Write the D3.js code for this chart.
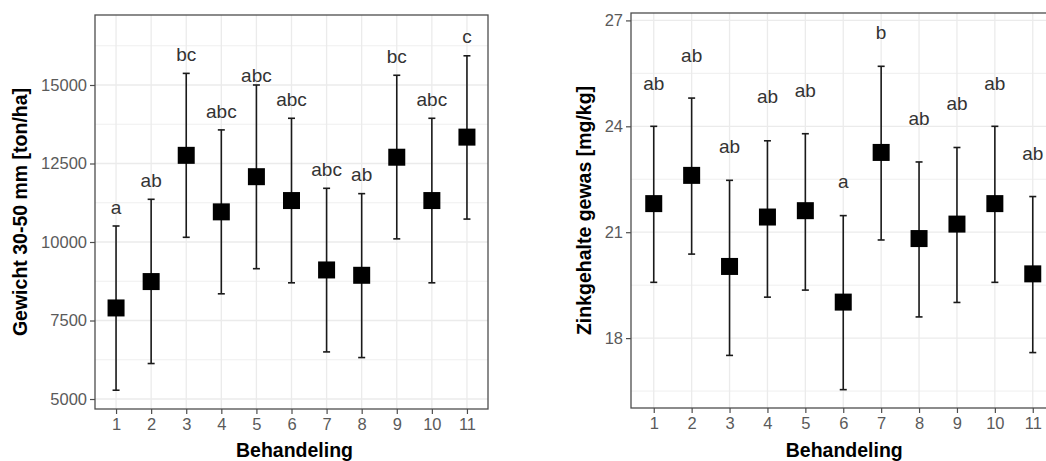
<!DOCTYPE html>
<html>
<head>
<meta charset="utf-8">
<script src="https://cdn.jsdelivr.net/npm/d3@7"></script>
<style>
  html, body { margin: 0; padding: 0; background: #fff; }
  svg { display: block; font-family: "Liberation Sans", Arial, sans-serif; }
</style>
</head>
<body>
<svg id="chart" width="1046" height="461"></svg>
<script>
// Treatments 1..11
const treatments = ["1","2","3","4","5","6","7","8","9","10","11"];

// Yield of 30-50 mm fraction [ton/ha]: mean with interval bounds and group letters
const weightMean  = [7900, 8740, 12760, 10960, 12080, 11320, 9110, 8940, 12700, 11320, 13340];
const weightUpper = [10510, 11360, 15370, 13570, 15000, 13940, 11710, 11540, 15310, 13940, 15930];
const weightLower = [5280, 6130, 10150, 8350, 9150, 8700, 6500, 6320, 10100, 8700, 10730];
const weightLetters = ["a","ab","bc","abc","abc","abc","abc","ab","bc","abc","c"];
const weightTicks = [5000, 7500, 10000, 12500, 15000];
const weightMinor = [6250, 8750, 11250, 13750, 16250];

// Zinc content of crop [mg/kg]
const zincMean  = [21.81, 22.61, 20.03, 21.43, 21.61, 19.02, 23.26, 20.82, 21.23, 21.81, 19.82];
const zincUpper = [24.0, 24.8, 22.47, 23.59, 23.79, 21.47, 25.7, 22.99, 23.4, 24.0, 22.01];
const zincLower = [19.58, 20.38, 17.51, 19.16, 19.36, 16.54, 20.78, 18.6, 19.01, 19.58, 17.59];
const zincLetters = ["ab","ab","ab","ab","ab","a","b","ab","ab","ab","ab"];
const zincTicks = [18, 21, 24, 27];
const zincMinor = [16.5, 19.5, 22.5, 25.5];

const svg = d3.select("#chart");

function drawPanel(opt) {
  const g = svg.append("g");
  const x = d3.scalePoint().domain(treatments).range([opt.x0, opt.x1]).padding(0.6);
  const y = d3.scaleLinear().domain(opt.domain).range([opt.y1, opt.y0]);

  // grid
  const grid = g.append("g");
  grid.selectAll("line.minor").data(opt.minor).join("line")
    .attr("x1", opt.x0).attr("x2", opt.x1)
    .attr("y1", d => y(d)).attr("y2", d => y(d))
    .attr("stroke", "#ededed").attr("stroke-width", 0.9);
  grid.selectAll("line.major").data(opt.ticks).join("line")
    .attr("x1", opt.x0).attr("x2", opt.x1)
    .attr("y1", d => y(d)).attr("y2", d => y(d))
    .attr("stroke", "#ebebeb").attr("stroke-width", 1.3);
  grid.selectAll("line.vert").data(treatments).join("line")
    .attr("x1", d => x(d)).attr("x2", d => x(d))
    .attr("y1", opt.y0).attr("y2", opt.y1)
    .attr("stroke", "#ebebeb").attr("stroke-width", 1.3);

  // error bars
  const idx = d3.range(treatments.length);
  const eb = g.append("g").attr("stroke", "#1a1a1a").attr("stroke-width", 1.6);
  eb.selectAll("line.v").data(idx).join("line")
    .attr("x1", i => x(treatments[i])).attr("x2", i => x(treatments[i]))
    .attr("y1", i => y(opt.upper[i])).attr("y2", i => y(opt.lower[i]));
  eb.selectAll("line.top").data(idx).join("line")
    .attr("x1", i => x(treatments[i]) - 3.5).attr("x2", i => x(treatments[i]) + 3.5)
    .attr("y1", i => y(opt.upper[i])).attr("y2", i => y(opt.upper[i]));
  eb.selectAll("line.bot").data(idx).join("line")
    .attr("x1", i => x(treatments[i]) - 3.5).attr("x2", i => x(treatments[i]) + 3.5)
    .attr("y1", i => y(opt.lower[i])).attr("y2", i => y(opt.lower[i]));

  // mean markers
  const s = 17;
  g.append("g").selectAll("rect").data(idx).join("rect")
    .attr("x", i => x(treatments[i]) - s / 2)
    .attr("y", i => y(opt.mean[i]) - s / 2)
    .attr("width", s).attr("height", s)
    .attr("fill", "#000");

  // group letters
  g.append("g").selectAll("text").data(idx).join("text")
    .attr("x", i => x(treatments[i]))
    .attr("y", i => y(opt.mean[i] + opt.letterOffset))
    .attr("text-anchor", "middle")
    .attr("font-size", 19)
    .attr("fill", "#333")
    .text(i => opt.letters[i]);

  // panel border
  g.append("rect")
    .attr("x", opt.x0).attr("y", opt.y0)
    .attr("width", opt.x1 - opt.x0).attr("height", opt.y1 - opt.y0)
    .attr("fill", "none").attr("stroke", "#4d4d4d").attr("stroke-width", 1.3);

  // axes
  const yAxis = g.append("g").attr("transform", `translate(${opt.x0},0)`)
    .call(d3.axisLeft(y).tickValues(opt.ticks).tickSize(5).tickPadding(3)
      .tickFormat(d3.format("d")));
  const xAxis = g.append("g").attr("transform", `translate(0,${opt.y1})`)
    .call(d3.axisBottom(x).tickSize(5).tickPadding(4));
  [xAxis, yAxis].forEach(a => {
    a.select(".domain").remove();
    a.selectAll(".tick line").attr("stroke", "#4d4d4d").attr("stroke-width", 1.2);
    a.selectAll(".tick text").attr("fill", "#5a5a5a").attr("font-size", 16.5)
      .attr("font-family", "Liberation Sans, Arial, sans-serif");
  });

  // titles
  g.append("text")
    .attr("x", (opt.x0 + Math.min(opt.x1, 1046 + 10)) / 2 + opt.xTitleShift)
    .attr("y", 457)
    .attr("text-anchor", "middle")
    .attr("font-size", 19.5).attr("font-weight", "bold").attr("fill", "#000")
    .text("Behandeling");
  g.append("text")
    .attr("transform", `translate(${opt.yTitleX},${(opt.y0 + opt.y1) / 2}) rotate(-90)`)
    .attr("text-anchor", "middle")
    .attr("font-size", 19.5).attr("font-weight", "bold").attr("fill", "#000")
    .text(opt.yTitle);
}

drawPanel({
  x0: 95, x1: 488, y0: 15, y1: 409,
  domain: [4682, 17229],
  ticks: weightTicks, minor: weightMinor,
  mean: weightMean, upper: weightUpper, lower: weightLower,
  letters: weightLetters, letterOffset: 3000,
  yTitle: "Gewicht 30-50 mm [ton/ha]", yTitleX: 27, xTitleShift: 3
});

drawPanel({
  x0: 631, x1: 1055.5, y0: 13, y1: 408,
  domain: [16.02, 27.21],
  ticks: zincTicks, minor: zincMinor,
  mean: zincMean, upper: zincUpper, lower: zincLower,
  letters: zincLetters, letterOffset: 3.22,
  yTitle: "Zinkgehalte gewas [mg/kg]", yTitleX: 591, xTitleShift: 1
});
</script>
</body>
</html>
